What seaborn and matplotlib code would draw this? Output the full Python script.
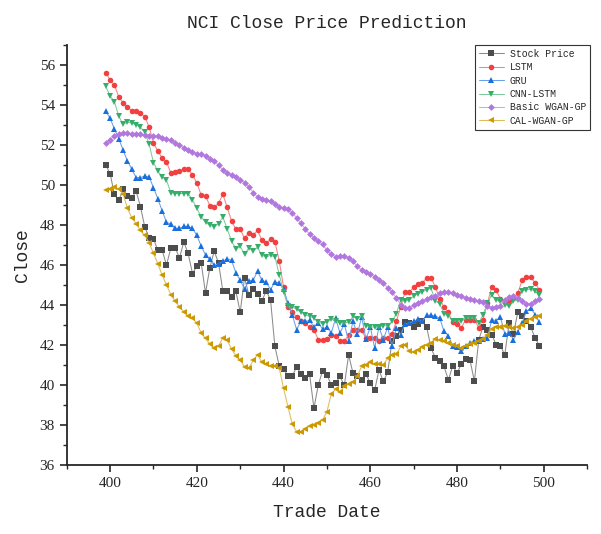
import numpy as np
import pandas as pd
import matplotlib
matplotlib.use('Agg')
import matplotlib.pyplot as plt
from matplotlib.colors import to_rgb
from matplotlib.ticker import MultipleLocator
import seaborn as sns

trade_date = list(range(399, 500))

stock_price = [
    51.0, 50.57, 49.53, 49.23, 49.78, 49.45, 49.33, 49.7, 48.92, 47.9,
    47.36, 47.31, 46.74, 46.74, 46.0, 46.83, 46.86, 46.36, 47.15, 46.58,
    45.57, 45.94, 46.11, 44.6, 45.86, 46.69, 46.11, 44.7, 44.69, 44.39,
    44.69, 43.64, 45.36, 44.5, 44.78, 44.53, 44.19, 44.72, 44.24, 41.93,
    40.95, 40.8, 40.47, 40.46, 40.9, 40.56, 40.34, 40.54, 38.84, 40.01,
    40.71, 40.51, 40.01, 40.09, 40.43, 39.98, 41.51, 40.6, 40.43, 40.26,
    40.55, 40.09, 39.73, 40.76, 40.18, 40.64, 42.18, 42.43, 42.77, 43.13,
    43.1, 42.9, 43.07, 43.18, 42.9, 41.85, 41.35, 41.18, 40.93, 40.26,
    40.96, 40.6, 41.06, 41.31, 41.23, 40.18, 42.27, 42.9, 42.73, 42.52,
    42.02, 41.96, 41.51, 43.1, 42.55, 43.64, 43.47, 43.22, 42.9, 42.35,
    41.96]

lstm = [
    55.6, 55.26, 55.0, 54.4, 54.1, 53.9, 53.7, 53.7, 53.6, 53.4,
    52.9, 52.1, 51.7, 51.35, 51.15, 50.6, 50.65, 50.7, 50.8, 50.8,
    50.5, 50.1, 49.5, 49.45, 48.97, 48.88, 49.08, 49.53, 48.88, 48.2,
    47.78, 47.78, 47.34, 47.61, 47.5, 47.73, 47.23, 47.1, 47.28, 47.16,
    46.2, 44.9, 43.9, 43.63, 43.4, 43.18, 43.1, 42.88, 42.77, 42.27,
    42.27, 42.3, 42.5, 42.47, 42.2, 42.2, 42.5, 42.73, 42.73, 42.73,
    42.33, 42.33, 42.33, 42.2, 42.33, 42.33, 42.56, 43.18, 43.9, 44.65,
    44.65, 44.89, 45.05, 45.1, 45.36, 45.36, 44.9, 44.3, 43.9, 43.64,
    43.13, 43.07, 42.87, 43.27, 43.27, 43.27, 42.87, 43.27, 44.1, 44.89,
    44.74, 44.3, 44.2, 44.2, 44.35, 44.59, 45.24, 45.39, 45.4, 45.1,
    44.74]

gru = [
    53.68, 53.34, 52.79, 52.32, 51.74, 51.2, 50.79, 50.37, 50.37, 50.44,
    50.4, 49.87, 49.32, 48.7, 48.15, 48.03, 47.83, 47.83, 47.93, 47.93,
    47.83, 47.48, 46.94, 46.5, 46.28, 45.99, 46.06, 46.19, 46.31, 46.23,
    45.61, 45.24, 44.8, 45.21, 45.24, 45.69, 45.24, 45.14, 44.77, 45.16,
    45.1, 44.8, 44.1, 43.52, 42.77, 43.18, 43.18, 43.23, 42.9, 43.1,
    42.8, 42.9, 42.6, 43.35, 42.6, 43.05, 42.2, 43.18, 42.55, 43.4,
    42.3, 42.9, 41.85, 42.9, 42.27, 42.9, 41.93, 42.85, 42.5, 43.05,
    43.1, 43.18, 43.3, 43.18, 43.49, 43.49, 43.44, 43.35, 42.68, 42.47,
    41.96, 41.9, 41.68, 41.93, 42.1, 42.22, 42.2, 42.3, 42.35, 43.27,
    43.22, 43.38, 42.57, 42.6, 42.27, 42.65, 43.1, 43.69, 43.85, 43.52,
    43.13]

cnn_lstm = [
    54.93, 54.45, 54.16, 53.43, 53.04, 53.13, 53.1, 53.01, 52.88, 52.63,
    52.04, 51.12, 50.7, 50.42, 50.24, 49.62, 49.57, 49.57, 49.57, 49.57,
    49.25, 48.83, 48.4, 48.15, 47.98, 47.91, 48.06, 48.4, 47.81, 47.19,
    46.81, 46.94, 46.53, 46.86, 46.69, 46.89, 46.48, 46.41, 46.48, 46.41,
    45.52, 44.66, 43.94, 43.9, 43.8, 43.64, 43.52, 43.43, 43.35, 43.14,
    43.07, 43.16, 43.3, 43.18, 43.1, 43.1, 43.14, 43.43, 43.3, 43.47,
    42.97, 42.9, 42.9, 42.9, 42.97, 42.97, 43.18, 43.57, 44.24, 44.19,
    44.27, 44.44, 44.57, 44.64, 44.77, 44.84, 44.2, 44.07, 43.57, 43.47,
    43.22, 43.18, 43.18, 43.35, 43.35, 43.35, 43.1, 43.52, 44.1, 44.52,
    44.24, 44.19, 44.02, 43.94, 44.19, 44.24, 44.69, 44.77, 44.8, 44.69,
    44.52]

basic_wgan_gp = [
    52.09, 52.26, 52.46, 52.54, 52.59, 52.6, 52.57, 52.56, 52.54, 52.5,
    52.47, 52.44, 52.44, 52.37, 52.31, 52.24, 52.12, 52.0, 51.87, 51.75,
    51.64, 51.57, 51.54, 51.47, 51.32, 51.19, 50.99, 50.74, 50.59, 50.5,
    50.39, 50.25, 50.12, 49.9, 49.62, 49.4, 49.28, 49.25, 49.18, 49.07,
    48.92, 48.85, 48.78, 48.62, 48.36, 48.08, 47.81, 47.53, 47.36, 47.19,
    47.03, 46.74, 46.53, 46.41, 46.44, 46.44, 46.36, 46.19, 45.94, 45.74,
    45.66, 45.56, 45.41, 45.27, 45.11, 44.86, 44.64, 44.35, 44.02, 43.85,
    43.85, 43.99, 44.1, 44.19, 44.3, 44.39, 44.47, 44.58, 44.64, 44.64,
    44.6, 44.52, 44.47, 44.35, 44.3, 44.24, 44.22, 44.14, 43.94, 43.85,
    43.9, 43.97, 44.27, 44.4, 44.43, 44.35, 44.19, 44.07, 44.07, 44.19,
    44.3]

cal_wgan_gp = [
    49.73, 49.78, 49.9, 49.78, 49.55, 48.83, 48.36, 48.06, 47.73, 47.48,
    47.11, 46.58, 46.07, 45.5, 45.0, 44.52, 44.2, 43.9, 43.66, 43.44,
    43.34, 43.1, 42.6, 42.33, 42.04, 41.85, 41.93, 42.37, 42.23, 41.8,
    41.46, 41.25, 40.9, 40.86, 41.23, 41.51, 41.13, 41.06, 40.96, 40.96,
    40.85, 39.84, 38.92, 38.06, 37.67, 37.67, 37.79, 37.95, 38.0, 38.09,
    38.26, 38.67, 39.56, 39.79, 39.67, 39.93, 40.04, 40.13, 40.46, 40.93,
    41.01, 41.13, 41.06, 41.06, 41.01, 41.35, 41.51, 41.54, 41.93, 42.02,
    41.68, 41.65, 41.76, 41.9, 42.02, 42.1, 42.3, 42.27, 42.18, 42.1,
    42.02, 41.93, 41.85, 41.96, 42.07, 42.1, 42.18, 42.3, 42.52, 42.8,
    42.9, 42.9, 42.97, 42.9, 42.85, 42.9, 43.02, 43.18, 43.3, 43.4,
    43.47]

series = [
    ('Stock Price', stock_price, '#4d4d4d', 's', 4.0),
    ('LSTM', lstm, '#f14040', 'o', 4.0),
    ('GRU', gru, '#1a6fdf', '^', 4.5),
    ('CNN-LSTM', cnn_lstm, '#37ad6b', 'v', 4.5),
    ('Basic WGAN-GP', basic_wgan_gp, '#b177de', 'D', 3.5),
    ('CAL-WGAN-GP', cal_wgan_gp, '#cc9900', '<', 4.5),
]


def lighter(c, amount=0.35):
    # blend toward white so the connecting lines look thinner than the markers
    r, g, b = to_rgb(c)
    return (r + (1 - r) * amount, g + (1 - g) * amount, b + (1 - b) * amount)


sns.set_style('ticks')
plt.rcParams['font.family'] = ['Liberation Serif', 'DejaVu Serif']

fig, ax = plt.subplots(figsize=(6.01, 5.34), dpi=100)
fig.subplots_adjust(left=0.111, right=0.977, top=0.916, bottom=0.129)

for name, vals, color, marker, ms in series:
    sns.lineplot(x=trade_date, y=vals, ax=ax, color=lighter(color),
                 marker=marker, markersize=ms, markerfacecolor=color,
                 markeredgecolor=color, markeredgewidth=0, linewidth=0.75,
                 label=name)

ax.set_xlim(390, 510)
ax.set_ylim(36, 57)
ax.xaxis.set_major_locator(MultipleLocator(20))
ax.xaxis.set_minor_locator(MultipleLocator(10))
ax.yaxis.set_major_locator(MultipleLocator(2))
ax.yaxis.set_minor_locator(MultipleLocator(1))
ax.tick_params(which='major', direction='out', length=5, width=1.2, labelsize=11)
ax.tick_params(which='minor', direction='out', length=3, width=1.0)

for side in ['top', 'right']:
    ax.spines[side].set_visible(False)
for side in ['left', 'bottom']:
    ax.spines[side].set_linewidth(1.3)

mono = ['Liberation Mono', 'DejaVu Sans Mono']
ax.set_title('NCI Close Price Prediction', fontsize=13, family=mono, pad=12)
ax.set_xlabel('Trade Date', fontsize=13, family=mono, labelpad=10)
ax.set_ylabel('Close', fontsize=13, family=mono, labelpad=6)

leg = ax.legend(loc='upper right', bbox_to_anchor=(590 / 601, 1 - 45 / 534),
                bbox_transform=fig.transFigure, borderaxespad=0,
                prop={'family': mono, 'size': 7}, frameon=True, fancybox=False,
                handlelength=2.6, labelspacing=0.35, borderpad=0.4,
                handletextpad=0.6)
leg.get_frame().set_edgecolor('black')
leg.get_frame().set_linewidth(0.8)

fig.savefig('out.png', dpi=100)
